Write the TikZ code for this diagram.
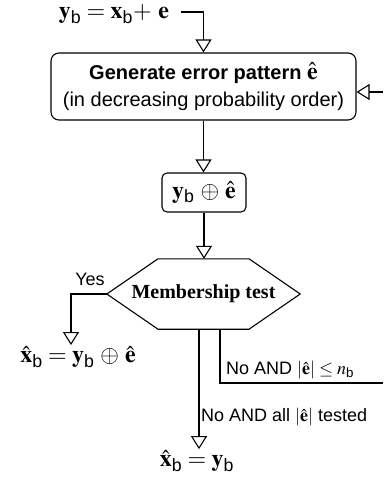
\documentclass[tikz,border=0pt]{standalone}
\usepackage{amsmath}
\usepackage{mathptmx}
\usepackage[no-math]{fontspec}
\setmainfont{Liberation Sans}
\newfontfamily\serif{Liberation Serif}
\usetikzlibrary{arrows.meta,calc}
\tikzset{
  conn/.style={line width=1.1pt},
  arr/.style={conn,-{Triangle[open,length=13pt,width=16pt]}},
  box/.style={draw,line width=1.1pt,rounded corners=8pt,align=center},
  mathtxt/.style={font=\fontsize{24}{28}\selectfont,inner sep=1pt},
  lbl/.style={font=\fontsize{18}{21}\selectfont,inner sep=0pt},
}
\begin{document}
\begin{tikzpicture}[x=1pt,y=-1pt]
\useasboundingbox (0,0) rectangle (383,479);
% input
\node[mathtxt] (yin) at (114,14) {$\mathbf{y}_{\text{b}} = \mathbf{x}_{\text{b}}{+}\ \mathbf{e}$};
\coordinate (s0) at (181,12);
% generate box
\node[box,minimum width=305pt,minimum height=67pt,font=\fontsize{20}{27}\selectfont] (gen) at (203.5,86.5)
  {{\bfseries Generate error pattern \fontsize{24}{27}\selectfont$\hat{\mathbf{e}}$}\\(in decreasing probability order)};
\draw[arr] (s0) -| (gen.north);
\coordinate (r1) at (383,92);
\draw[arr] (r1) -- (r1 -| gen.east);
% xor box
\node[box,rounded corners=5pt,minimum width=84pt,minimum height=39pt,inner sep=1pt,font=\fontsize{24}{28}\selectfont] (xor) at (204,192.5)
  {$\mathbf{y}_{\text{b}}\, \oplus\, \hat{\mathbf{e}}$};
\draw[arr] (gen.south) -- (gen.south |- xor.north);
% membership test hexagon
\node[minimum width=193pt,minimum height=70pt,inner sep=0pt,font=\serif\bfseries\fontsize{20}{24}\selectfont] (mt) at (203.5,294) {Membership test};
\draw[conn] (mt.west) -- ($(mt.north)+(-45.5,0)$) -- ($(mt.north)+(45.5,0)$) -- (mt.east)
  -- ($(mt.south)+(45.5,0)$) -- ($(mt.south)+(-45.5,0)$) -- cycle;
\draw[arr] (xor.south) -- (xor.south |- mt.north);
% yes branch
\coordinate (yx) at (71,0);
\node[mathtxt] (res1) at (78,357) {$\hat{\mathbf{x}}_{\text{b}} = \mathbf{y}_{\text{b}}\, \oplus\, \hat{\mathbf{e}}$};
\draw[arr] (mt.west) -| (yx |- res1.north);
\node[lbl] (yes) at (90,279) {Yes};
% no branch, loop
\coordinate (n1) at (220,383);
\coordinate (n1e) at (383,383);
\draw[conn] (n1 |- mt.south) -- (n1) -- (n1e);
\node[lbl,anchor=west] (l1) at (226,370) {No AND $|\hat{\mathbf{e}}| \le n_{\text{b}}$};
% no branch, all tested
\node[mathtxt] (res2) at (197,461) {$\hat{\mathbf{x}}_{\text{b}} = \mathbf{y}_{\text{b}}$};
\coordinate (n2) at (199,0);
\draw[arr] (n2 |- mt.south) -- (n2 |- res2.north);
\node[lbl,anchor=west] (l2) at (201,417) {No AND all $|\hat{\mathbf{e}}|$ tested};
\end{tikzpicture}
\end{document}
